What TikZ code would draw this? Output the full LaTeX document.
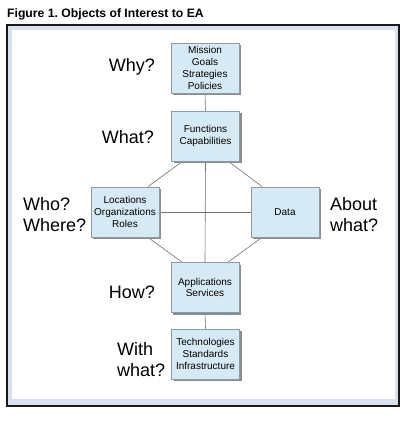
\documentclass[tikz,border=0pt]{standalone}
\usepackage{fontspec}
\setmainfont{Liberation Sans}
\usetikzlibrary{shadows,backgrounds}
\definecolor{boxfill}{HTML}{D6EAF5}
\definecolor{boxline}{HTML}{8C9AA6}
\definecolor{band}{HTML}{D9E1EE}
\definecolor{conn}{HTML}{707070}
\frenchspacing
\begin{document}
\begin{tikzpicture}[x=1pt,y=-1pt,
  objbox/.style={draw=boxline, line width=0.8pt, fill=boxfill, minimum width=68pt, minimum height=50pt,
    inner sep=1pt, align=center, font=\fontsize{10}{11.8}\selectfont,
    drop shadow={shadow xshift=2.2pt, shadow yshift=-2.2pt, fill=black!45, opacity=1}},
  question/.style={font=\fontsize{18}{21}\selectfont, inner sep=0pt},
  connector/.style={draw=conn, line width=0.6pt}]
\useasboundingbox (0,0) rectangle (415,421);
% title
\node[anchor=base west, inner sep=0pt, font=\fontsize{12.2}{14}\selectfont\bfseries] (title) at (7,17.5) {Figure 1. Objects of Interest to EA};
% boxes
\node[objbox] (mission) at (205,68) {Mission\\Goals\\Strategies\\Policies};
\node[objbox] (func) at (205.5,136) {Functions\\Capabilities};
\node[objbox] (loc) at (125,212) {Locations\\Organizations\\Roles};
\node[objbox] (data) at (285,212) {Data};
\node[objbox] (apps) at (205,287.5) {Applications\\Services};
\node[objbox] (tech) at (205.5,354) {Technologies\\Standards\\Infrastructure};
% labels
\node[question, anchor=east] (why) at (155,67) {Why?};
\node[question, anchor=east] (what) at (154,137) {What?};
\node[question, anchor=west, align=left] (who) at (23,214.5) {Who?\\Where?};
\node[question, anchor=west, align=left] (about) at (330,214.5) {About\\what?};
\node[question, anchor=east] (how) at (155,292) {How?};
\node[question, anchor=west, align=left] (with) at (117,360) {With\\what?};
\begin{scope}[on background layer]
% frame
\fill[black!90] (6,24) rectangle (400,406.5);
\fill[band] (8,26) rectangle (398,404.5);
\fill[white] (12,30) rectangle (394.5,399);
% connectors
\path[connector] (mission.south) -- (func.north);
\path[connector] (loc.east) -- (data.west);
\path[connector] (func.south) -- (apps.north);
\path[connector] (apps.south) -- (tech.north);
\path[connector] ([xshift=-23pt]func.south) -- ([xshift=23pt]loc.north);
\path[connector] ([xshift=23pt]func.south) -- ([xshift=-23pt]data.north);
\path[connector] ([xshift=23pt]loc.south) -- ([xshift=-23pt]apps.north);
\path[connector] ([xshift=-23pt]data.south) -- ([xshift=23pt]apps.north);
\end{scope}
\end{tikzpicture}
\end{document}
